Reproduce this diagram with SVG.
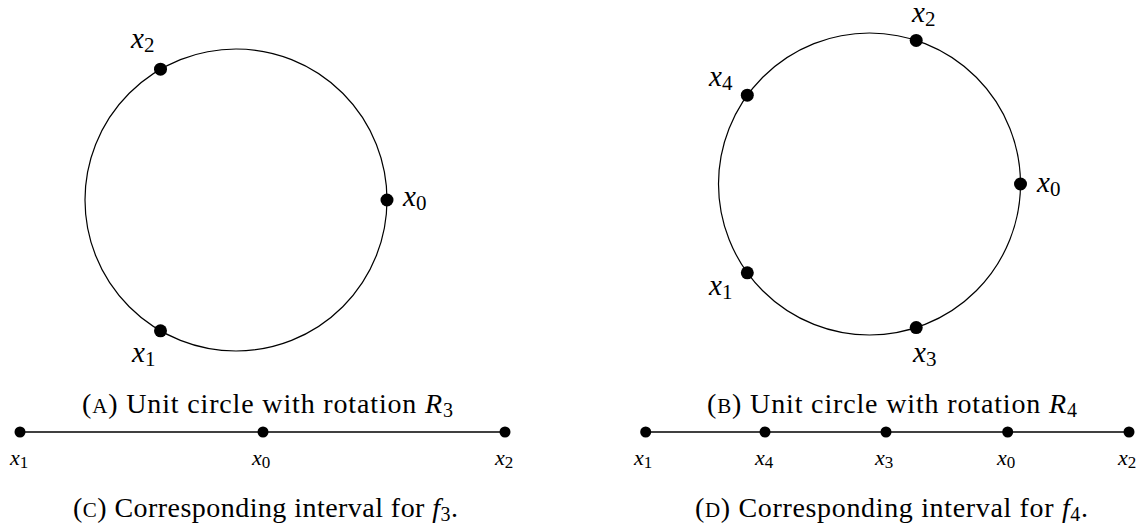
<svg xmlns="http://www.w3.org/2000/svg" width="1144" height="527" viewBox="0 0 1144 527">
<style>
.circ{fill:none;stroke:#000;stroke-width:1.2}
.ln{stroke:#000;stroke-width:1.3}
.dot{fill:#000}
text{font-family:'Liberation Serif','Times New Roman','DejaVu Serif',serif;fill:#000}
.lbl{font-style:italic;font-size:29px}
.lbl .s{font-style:normal;font-size:21px}
.ilbl{font-style:italic;font-size:22px}
.ilbl .s{font-style:normal;font-size:17px}
.cap{font-size:28px}
.cap .sc{font-size:21px}
.cap .it{font-style:italic}
.cap .s{font-size:20px}
</style>
<g id="figA">
  <circle class="circ" cx="236" cy="200" r="151"/>
  <g id="A-x0"><circle class="dot" cx="387" cy="200" r="6.5"/><text class="lbl" x="403" y="206">x<tspan class="s" dy="4">0</tspan></text></g>
  <g id="A-x1"><circle class="dot" cx="160.5" cy="330.8" r="6.5"/><text class="lbl" x="132" y="362">x<tspan class="s" dy="4">1</tspan></text></g>
  <g id="A-x2"><circle class="dot" cx="160.5" cy="69.2" r="6.5"/><text class="lbl" x="131" y="48">x<tspan class="s" dy="4">2</tspan></text></g>
  <text class="cap" x="82" y="413" textLength="371" lengthAdjust="spacing">(<tspan class="sc">A</tspan>) Unit circle with rotation <tspan class="it">R</tspan><tspan class="s" dy="4">3</tspan></text>
</g>
<g id="figB">
  <circle class="circ" cx="869.5" cy="184" r="151"/>
  <g id="B-x0"><circle class="dot" cx="1020.5" cy="184" r="6.5"/><text class="lbl" x="1037" y="192">x<tspan class="s" dy="4">0</tspan></text></g>
  <g id="B-x1"><circle class="dot" cx="747.3" cy="272.8" r="6.5"/><text class="lbl" x="709" y="295">x<tspan class="s" dy="4">1</tspan></text></g>
  <g id="B-x2"><circle class="dot" cx="916.2" cy="40.4" r="6.5"/><text class="lbl" x="912" y="22">x<tspan class="s" dy="4">2</tspan></text></g>
  <g id="B-x3"><circle class="dot" cx="916.2" cy="327.6" r="6.5"/><text class="lbl" x="913" y="362">x<tspan class="s" dy="4">3</tspan></text></g>
  <g id="B-x4"><circle class="dot" cx="747.3" cy="95.2" r="6.5"/><text class="lbl" x="709" y="86">x<tspan class="s" dy="4">4</tspan></text></g>
  <text class="cap" x="707" y="413" textLength="370" lengthAdjust="spacing">(<tspan class="sc">B</tspan>) Unit circle with rotation <tspan class="it">R</tspan><tspan class="s" dy="4">4</tspan></text>
</g>
<g id="connectors">
  <line class="ln" x1="20" y1="432" x2="505" y2="432"/>
  <line class="ln" x1="645.7" y1="432" x2="1129" y2="432"/>
</g>
<g id="figC">
  <g id="C-x1"><circle class="dot" cx="20" cy="432" r="5.5"/><text class="ilbl" x="10" y="465">x<tspan class="s" dy="3">1</tspan></text></g>
  <g id="C-x0"><circle class="dot" cx="263" cy="432" r="5.5"/><text class="ilbl" x="252" y="465">x<tspan class="s" dy="3">0</tspan></text></g>
  <g id="C-x2"><circle class="dot" cx="505" cy="432" r="5.5"/><text class="ilbl" x="495" y="465">x<tspan class="s" dy="3">2</tspan></text></g>
  <text class="cap" x="73" y="517" textLength="385" lengthAdjust="spacing">(<tspan class="sc">C</tspan>) Corresponding interval for <tspan class="it">f</tspan><tspan class="s" dy="4">3</tspan><tspan dy="-4">.</tspan></text>
</g>
<g id="figD">
  <g id="D-x1"><circle class="dot" cx="645.7" cy="432" r="5.5"/><text class="ilbl" x="634" y="465">x<tspan class="s" dy="3">1</tspan></text></g>
  <g id="D-x4"><circle class="dot" cx="765" cy="432" r="5.5"/><text class="ilbl" x="755" y="465">x<tspan class="s" dy="3">4</tspan></text></g>
  <g id="D-x3"><circle class="dot" cx="886" cy="432" r="5.5"/><text class="ilbl" x="875" y="465">x<tspan class="s" dy="3">3</tspan></text></g>
  <g id="D-x0"><circle class="dot" cx="1007.7" cy="432" r="5.5"/><text class="ilbl" x="997" y="465">x<tspan class="s" dy="3">0</tspan></text></g>
  <g id="D-x2"><circle class="dot" cx="1129" cy="432" r="5.5"/><text class="ilbl" x="1118" y="465">x<tspan class="s" dy="3">2</tspan></text></g>
  <text class="cap" x="695" y="517" textLength="393" lengthAdjust="spacing">(<tspan class="sc">D</tspan>) Corresponding interval for <tspan class="it">f</tspan><tspan class="s" dy="4">4</tspan><tspan dy="-4">.</tspan></text>
</g>
</svg>
